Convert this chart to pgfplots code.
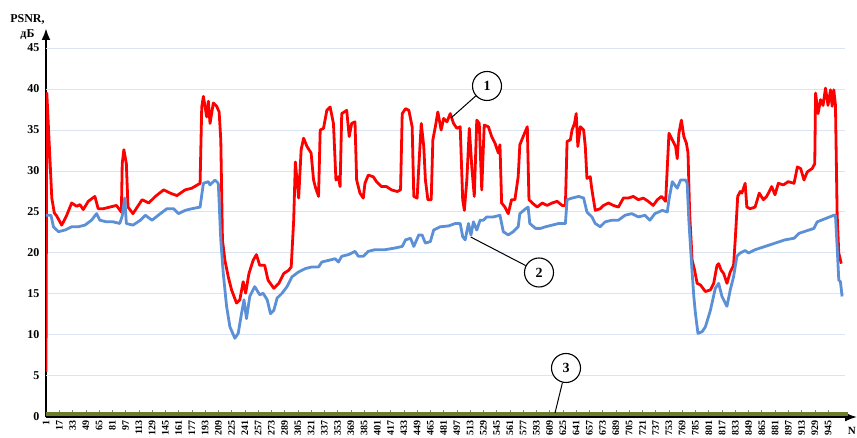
\documentclass[border=0pt]{standalone}
\usepackage{fontspec}
\setmainfont{Liberation Serif}
\usepackage{pgfplots}
\pgfplotsset{compat=1.18}
\usetikzlibrary{arrows.meta}
\definecolor{redl}{RGB}{255,0,0}
\definecolor{bluel}{RGB}{91,143,214}
\definecolor{greenl}{RGB}{107,125,44}
\definecolor{gridc}{RGB}{218,228,242}
\begin{document}
\begin{tikzpicture}
\begin{axis}[
  at={(0pt,0pt)}, anchor=south west,
  scale only axis, width=811pt, height=389pt,
  xmin=1, xmax=980, ymin=0, ymax=47.44,
  axis x line=bottom, axis y line=left,
  x axis line style={black, line width=1.8pt, -{Latex[length=12pt,width=9pt]}},
  y axis line style={black, line width=2.4pt, -{Latex[length=12pt,width=9pt]}},
  xtick={1,17,...,945},
  ytick={0,5,...,45},
  tick align=inside,
  major tick length=7pt,
  xtick style={draw=gray, line width=0.5pt},
  ytick style={draw=none},
  /pgf/number format/assume math mode=true,
  xticklabel style={rotate=90, anchor=east, font=\bfseries\fontsize{10}{10}\selectfont},
  yticklabel style={font=\bfseries\fontsize{12}{12}\selectfont, xshift=-3pt},
]
\pgfplotsinvokeforeach{5,10,...,45}{\draw[gridc, line width=1pt] (axis cs:1,#1) -- (axis cs:965,#1);}
\addplot[greenl, line width=3.5pt] coordinates {(1,0.37) (969,0.37)};
\addplot[redl, line width=2.8pt, line join=round] coordinates {
(1,5.5)(2,39.5)(8,26.7)(11,24.9)(14,24.5)(20,23.4)(26,24.6)(32,26.1)(38,25.7)(42,25.9)(46,25.3)(52,26.3)(60,26.9)(64,25.4)(70,25.4)(78,25.6)(86,25.8)(92,25.0)(93,30.9)(95,32.6)(98,30.9)(100,25.6)(106,24.8)(117,26.5)(125,26.1)(133,26.9)(143,27.7)(151,27.3)(159,27.0)(169,27.7)(177,27.9)(187,28.5)(189,37.8)(191,39.1)(195,36.6)(197,38.5)(199,35.8)(203,38.3)(207,37.9)(210,37.2)(212,33.8)(214,21.6)(217,19.1)(221,17.1)(225,15.5)(231,13.9)(235,14.3)(239,16.5)(242,15.1)(246,17.5)(251,19.1)(255,19.8)(259,18.5)(265,18.5)(269,16.7)(276,15.7)(282,16.3)(288,17.5)(294,17.9)(297,18.3)(300,24.0)(302,31.1)(304,28.9)(306,26.7)(309,32.6)(312,34.0)(316,33.0)(321,32.2)(324,28.9)(326,28.1)(330,26.9)(332,35.0)(336,35.2)(340,37.4)(344,37.8)(348,35.8)(351,28.9)(354,29.3)(356,28.1)(358,37.0)(364,37.4)(367,34.2)(370,35.8)(374,36.0)(376,28.9)(380,27.3)(384,26.7)(386,28.5)(390,29.5)(396,29.3)(400,28.7)(406,28.1)(412,28.1)(418,27.7)(425,27.5)(429,27.7)(431,37.0)(435,37.6)(439,37.4)(443,35.4)(445,26.9)(449,26.7)(451,30.5)(454,35.8)(457,33.0)(459,28.9)(462,26.5)(466,26.5)(468,33.8)(471,35.4)(474,37.2)(478,35.0)(481,36.4)(485,36.0)(489,37.0)(493,35.8)(497,35.2)(501,35.4)(504,26.5)(506,25.2)(509,28.9)(512,35.2)(515,30.5)(518,26.9)(521,36.2)(524,35.8)(527,27.7)(530,35.6)(535,35.4)(539,34.2)(543,33.4)(547,32.2)(549,33.2)(551,26.1)(555,25.6)(559,24.8)(563,26.5)(567,26.5)(571,29.3)(573,33.2)(577,34.2)(582,35.4)(584,26.5)(588,26.1)(594,25.6)(600,26.1)(606,25.8)(612,26.1)(618,26.3)(624,25.8)(628,25.8)(630,33.6)(634,33.8)(636,35.0)(639,35.8)(641,37.0)(643,33.0)(646,35.4)(650,35.0)(652,33.0)(654,29.1)(658,29.3)(660,27.7)(664,25.2)(670,25.4)(674,25.8)(680,26.1)(686,25.8)(692,25.6)(698,26.7)(704,26.7)(710,26.9)(716,26.5)(722,26.7)(728,26.3)(734,25.8)(739,26.5)(744,26.9)(749,26.3)(753,34.6)(757,33.8)(761,33.0)(763,31.5)(765,34.6)(768,36.2)(771,34.2)(774,33.4)(776,32.2)(778,24.8)(781,19.1)(784,17.9)(787,16.3)(791,16.1)(797,15.3)(803,15.5)(807,16.3)(811,18.5)(813,18.7)(816,17.9)(819,17.5)(823,16.3)(827,17.7)(831,18.5)(833,21.6)(836,26.9)(839,27.5)(841,27.3)(845,28.5)(847,25.6)(851,25.4)(857,25.6)(862,27.3)(867,26.5)(871,26.9)(877,28.1)(881,27.1)(885,28.5)(891,28.3)(897,28.7)(904,28.5)(908,30.5)(912,30.3)(916,28.9)(920,29.9)(926,30.3)(929,30.9)(930,39.5)(933,37.0)(936,38.7)(939,38.0)(942,40.1)(945,38.0)(948,39.9)(950,37.9)(952,39.9)(954,38.0)(956,24.8)(958,20.0)(961,18.7)
};
\addplot[bluel, line width=2.8pt, line join=round] coordinates {
(1,24.6)(7,24.6)(10,23.2)(16,22.6)(24,22.8)(32,23.2)(40,23.2)(48,23.4)(56,24.0)(62,24.8)(66,24.0)(74,23.8)(82,23.8)(90,23.6)(93,24.5)(96,26.7)(98,23.6)(106,23.4)(115,24.0)(121,24.6)(129,24.0)(139,24.8)(147,25.4)(155,25.4)(161,24.8)(169,25.2)(177,25.4)(187,25.6)(191,28.5)(197,28.7)(199,28.3)(205,28.9)(209,28.5)(212,21.6)(215,17.5)(219,13.5)(223,11.0)(229,9.6)(233,10.2)(237,12.6)(240,14.3)(243,12.0)(247,14.7)(253,15.9)(259,14.9)(263,15.1)(268,14.3)(272,12.6)(276,13.0)(280,14.5)(286,15.1)(292,15.9)(298,17.1)(306,17.7)(314,18.1)(322,18.3)(330,18.3)(334,18.9)(342,19.1)(350,19.3)(354,18.9)(358,19.6)(366,19.8)(374,20.2)(378,19.6)(384,19.6)(390,20.2)(398,20.4)(410,20.4)(422,20.6)(431,20.8)(435,21.6)(441,21.8)(445,20.8)(451,22.2)(455,22.2)(459,21.2)(465,21.4)(469,22.8)(477,23.2)(487,23.3)(495,23.6)(501,23.6)(504,22.0)(507,21.6)(511,23.6)(514,22.2)(517,23.8)(521,22.8)(525,24.0)(529,24.0)(533,24.4)(541,24.4)(549,24.6)(553,22.6)(559,22.2)(565,22.6)(571,23.2)(573,24.8)(580,25.4)(583,25.6)(585,23.6)(592,23.0)(598,23.0)(604,23.2)(612,23.4)(620,23.6)(628,23.6)(630,26.5)(636,26.7)(644,26.9)(650,26.7)(654,25.0)(660,24.4)(664,23.6)(670,23.2)(676,23.8)(684,24.0)(692,24.0)(700,24.6)(708,24.8)(716,24.4)(724,24.6)(730,24.0)(736,24.8)(745,25.2)(751,25.0)(753,26.5)(757,28.7)(763,27.9)(767,28.9)(773,28.9)(775,28.5)(777,24.0)(780,19.1)(783,14.7)(785,12.6)(788,10.2)(793,10.4)(797,11.0)(803,13.0)(809,15.7)(813,16.3)(817,14.7)(823,13.5)(827,15.5)(831,17.1)(835,19.6)(839,20.0)(845,20.3)(849,20.0)(857,20.4)(869,20.8)(881,21.2)(893,21.6)(904,21.8)(910,22.4)(922,22.8)(928,23.0)(932,23.8)(942,24.2)(952,24.6)(954,24.6)(956,20.8)(958,16.7)(960,16.5)(962,14.7)
};
\end{axis}
\node[font=\bfseries\fontsize{12}{15}\selectfont, align=center, inner sep=0] at (-18.5pt,389.5pt) {PSNR,\\дБ};
\begin{scope}[every node/.style={circle, draw, line width=1.1pt, minimum size=29pt, inner sep=0pt, fill=white, font=\bfseries\fontsize{14}{14}\selectfont}]
\node (c1) at (441pt,331pt) {1};
\node (c2) at (493pt,144.5pt) {2};
\node (c3) at (520pt,49pt) {3};
\end{scope}
\draw[line width=1pt] (c1) -- (405pt,299pt);
\draw[line width=1pt] (c2) -- (424.7pt,180pt);
\draw[line width=1pt] (c3) -- (509pt,4pt);
\node[anchor=base east, inner sep=0pt, font=\bfseries\fontsize{11}{11}\selectfont] at (810pt,-18pt) {N};
\pgfresetboundingbox
\path[use as bounding box] (-46pt,-21pt) rectangle (811pt,417pt);
\end{tikzpicture}
\end{document}
